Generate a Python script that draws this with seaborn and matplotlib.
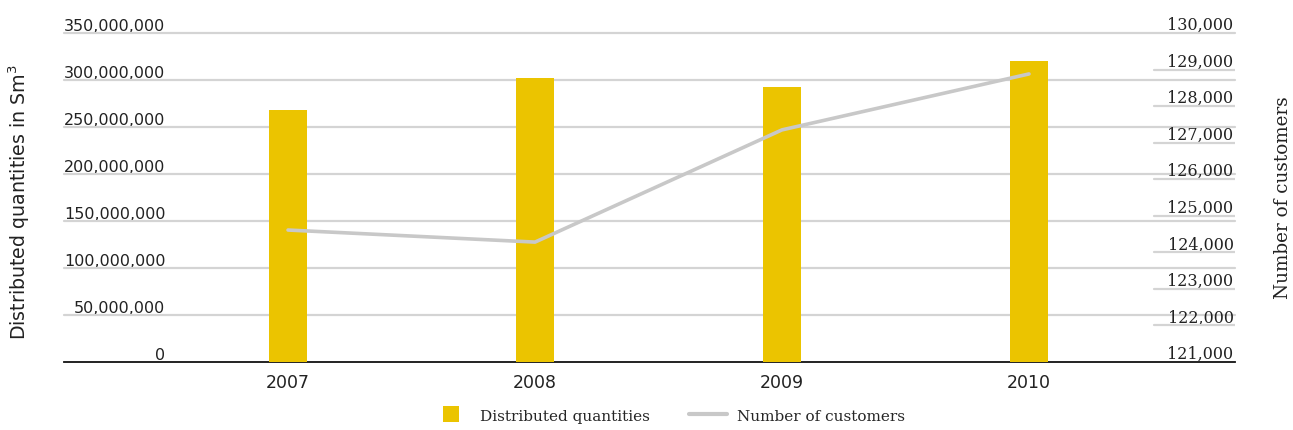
import matplotlib
matplotlib.use("Agg")
from matplotlib import pyplot as plt
from matplotlib.lines import Line2D
import numpy as np
import seaborn as sns

years = ["2007", "2008", "2009", "2010"]
distributed = [268_000_000, 302_000_000, 292_500_000, 320_000_000]
customers = [124_610, 124_280, 127_350, 128_880]

left_ticks = [0, 50_000_000, 100_000_000, 150_000_000, 200_000_000,
              250_000_000, 300_000_000, 350_000_000]
right_ticks = [121_000, 122_000, 123_000, 124_000, 125_000,
               126_000, 127_000, 128_000, 129_000, 130_000]

BAR_COLOR = "#EBC400"
LINE_COLOR = "#C8C8C8"
GRID_COLOR = "#D4D4D4"

sns.set_style("white")
plt.rcParams["font.family"] = ["DejaVu Sans"]

fig = plt.figure(figsize=(12.93, 4.31), dpi=100)
ax = fig.add_axes([64 / 1293, 1 - 363 / 431, 1171 / 1293, 329 / 431])

# bars on the left axis
sns.barplot(x=years, y=distributed, color=BAR_COLOR, width=0.154,
            saturation=1, linewidth=0, ax=ax, zorder=3)
ax.set_ylim(0, 350_000_000)
ax.set_xlim(-0.907, 3.834)

for v in left_ticks[1:]:
    ax.axhline(v, color=GRID_COLOR, lw=1.6, zorder=1, clip_on=False)

ax.set_yticks(left_ticks)
ax.set_yticklabels([f"{v:,}" for v in left_ticks], fontsize=11.5, color="#222222")
ax.tick_params(axis="y", length=0, pad=-73)
for lab in ax.get_yticklabels():
    lab.set_verticalalignment("bottom")
ax.tick_params(axis="x", length=0, pad=8, labelsize=12.5, labelcolor="#222222")

for side in ["top", "right", "left"]:
    ax.spines[side].set_visible(False)
ax.spines["bottom"].set_color("#111111")
ax.spines["bottom"].set_linewidth(1.3)
ax.set_xlabel("")
ax.set_ylabel("")

# line on the right axis
ax2 = ax.twinx()
sns.lineplot(x=np.arange(len(years)), y=customers, color=LINE_COLOR,
             linewidth=2.6, ax=ax2, zorder=4)
ax2.set_ylim(121_000, 130_000)
ax2.set_xlim(-0.907, 3.834)
for v in right_ticks[1:-1]:
    ax2.axhline(v, xmin=(1154 - 64) / 1171, xmax=1, color=GRID_COLOR, lw=1.6, zorder=1)

ax2.set_yticks(right_ticks)
ax2.set_yticklabels([f"{v:,}" for v in right_ticks], fontsize=11.5,
                    color="#222222", family="DejaVu Serif")
ax2.tick_params(axis="y", length=0, pad=-1)
for lab in ax2.get_yticklabels():
    lab.set_horizontalalignment("right")
    lab.set_verticalalignment("bottom")
for side in ["top", "right", "left", "bottom"]:
    ax2.spines[side].set_visible(False)
ax2.set_ylabel("")

fig.text(19 / 1293, 1 - 202 / 431, "Distributed quantities in Sm$^3$", rotation=90,
         ha="center", va="center", fontsize=13.7, color="#222222")
fig.text(1283 / 1293, 1 - 198 / 431, "Number of customers", rotation=90,
         ha="center", va="center", fontsize=13.2, color="#222222", family="DejaVu Serif")

handles = [Line2D([0], [0], marker="s", markersize=11, linestyle="none",
                  markerfacecolor=BAR_COLOR, markeredgewidth=0),
           Line2D([0], [0], color=LINE_COLOR, lw=3)]
fig.legend(handles, ["Distributed quantities", "Number of customers"],
           loc="lower center", bbox_to_anchor=(0.517, -0.015), ncol=2, frameon=False,
           prop={"family": "DejaVu Serif", "size": 11}, handlelength=2.5,
           columnspacing=2.5, handletextpad=0.7)

plt.savefig("out.png", dpi=100)
